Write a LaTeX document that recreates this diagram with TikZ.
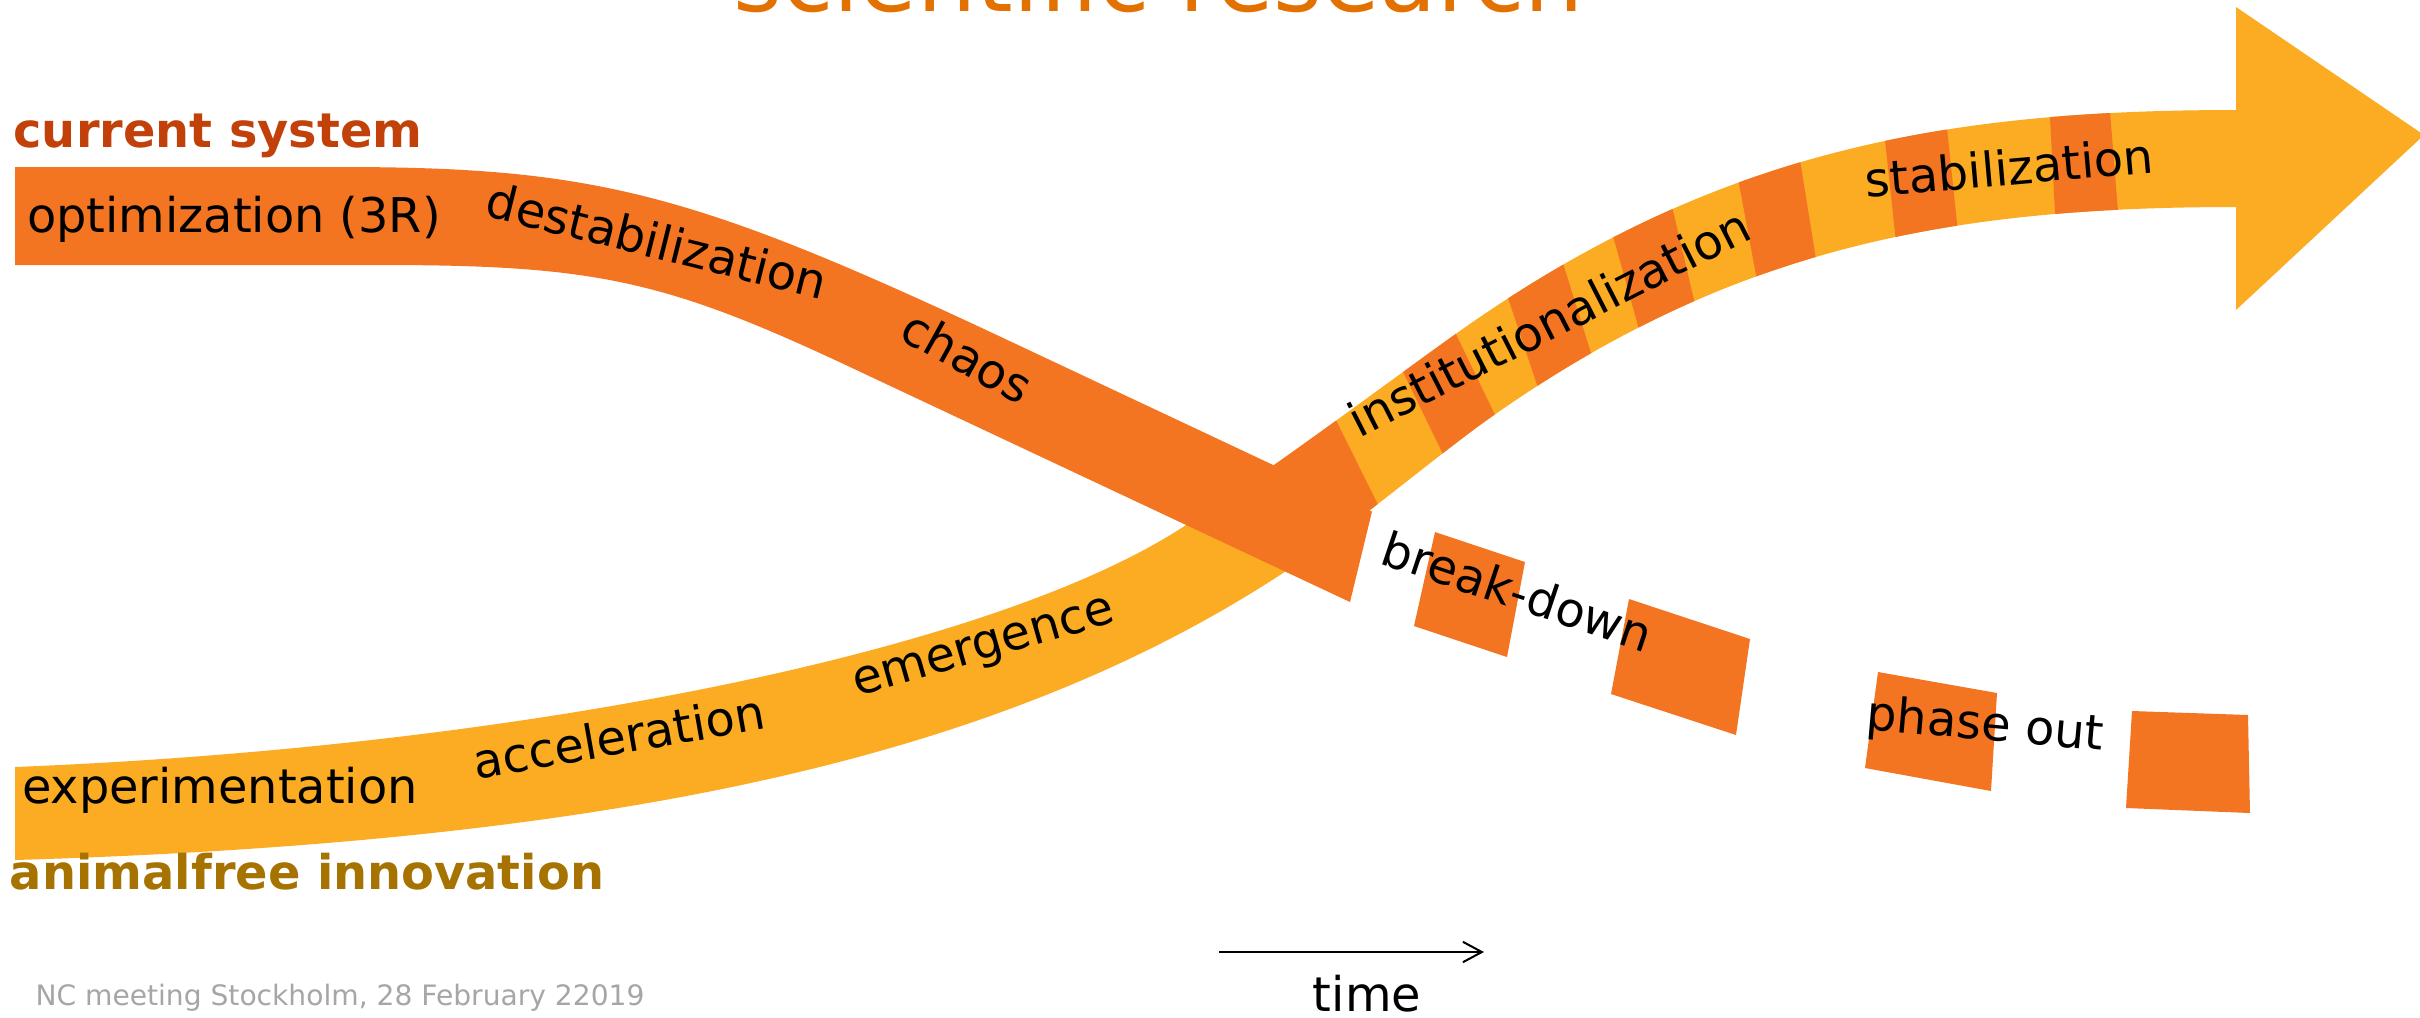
\documentclass[tikz,border=0pt]{standalone}
\usepackage{fontspec}
\setmainfont{DejaVu Sans}
\usetikzlibrary{arrows.meta}
\definecolor{bandOrange}{RGB}{243,117,34}
\definecolor{bandYellow}{RGB}{251,172,34}
\definecolor{titleOrange}{RGB}{226,113,0}
\definecolor{curRed}{RGB}{194,65,10}
\definecolor{animGold}{RGB}{166,114,0}
\definecolor{footGray}{RGB}{166,166,166}
\newcommand\LblFont{\fontsize{13.6pt}{16pt}\selectfont}
\newcommand\TitleFont{\fontsize{26.6pt}{30pt}\selectfont}
\newcommand\FootFont{\fontsize{8pt}{10pt}\selectfont}
\newcommand\YellowOutline{(15,767) .. controls (526,746.6) and (993,650.6) .. (1183,527) .. controls (1272,469) and (1361,402) .. (1450,338) .. controls (1704,155.6) and (1931,110) .. (2236,110) -- (2236,7) -- (2424,135) -- (2236,310) -- (2236,207) .. controls (1941.5,207) and (1722.4,250.6) .. (1480,425) .. controls (1413,474.6) and (1347,531.5) .. (1280,575) .. controls (1001,756.3) and (621.6,841.8) .. (15,860) -- cycle}
\tikzset{
  lbl/.style={font=\LblFont, text=black, inner sep=0pt, anchor=base},
  hdr/.style={font=\LblFont\bfseries, inner sep=0pt, anchor=base},
  orangefill/.style={fill=bandOrange},
  yellowfill/.style={fill=bandYellow},
  timearrow/.style={line width=0.57pt, -{Straight Barb[length=5.4pt,width=5.8pt]}}
}
\begin{document}
\begin{tikzpicture}[x=0.01cm,y=-0.01cm]
\useasboundingbox (0,0) rectangle (2420,1017);
\clip (0,0) rectangle (2420,1017);
\fill[white] (0,0) rectangle (2420,1017);

% title (cut by the top edge)
\node[font=\TitleFont, text=titleOrange, inner sep=0pt, anchor=base] (title) at (1159,11) {scientific research};

% animal-free innovation band with arrow
\fill[yellowfill] \YellowOutline;
\begin{scope}
  \clip \YellowOutline;
  \fill[orangefill] (1244,442) -- (1321,390) -- (1393,535) -- (1316,594) -- cycle;
  \fill[orangefill] (1386,337) -- (1439,299) -- (1511,448) -- (1458,485) -- cycle;
  \fill[orangefill] (1495,259) -- (1552,228) -- (1601,385) -- (1549,421) -- cycle;
  \fill[orangefill] (1603,200) -- (1664,172) -- (1701,330) -- (1647,358) -- cycle;
  \fill[orangefill] (1731,141) -- (1794,123) -- (1821,290) -- (1762,307) -- cycle;
  \fill[orangefill] (1881,103) -- (1943,90) -- (1961,261) -- (1899,270) -- cycle;
  \fill[orangefill] (2048,79) -- (2107,74) -- (2121,249) -- (2057,251) -- cycle;
\end{scope}

% current system band
\fill[orangefill] (15,167) -- (340,167) .. controls (594,167) and (693,192.4) .. (1000,336.5) -- (1372,511.5) -- (1350,602) -- (850,367) .. controls (665,280) and (595,265) .. (380,265) -- (15,265) -- cycle;

% break-down / phase-out pieces
\fill[orangefill] (1435,532) -- (1525,562) -- (1507,657) -- (1414,626) -- cycle;
\fill[orangefill] (1629,599) -- (1750,639) -- (1736,735) -- (1611,694) -- cycle;
\fill[orangefill] (1878,672) -- (1997,693) -- (1991,791) -- (1865,768) -- cycle;
\fill[orangefill] (2132,711) -- (2248,715) -- (2250,813) -- (2126,808) -- cycle;

% headings
\node[hdr, text=curRed] (cur) at (218,147) {current system};
\node[hdr, text=animGold] (anim) at (307,889) {animalfree innovation};

% labels
\node[lbl] (opt) at (234,232) {optimization (3R)};
\node[lbl, rotate=-14] (destab) at (653,258) {destabilization};
\node[lbl, rotate=-29] (chaos) at (959,372) {chaos};
\node[lbl] (exper) at (220,803) {experimentation};
\node[lbl, rotate=10] (accel) at (622,754) {acceleration};
\node[lbl, rotate=16] (emerg) at (987,659) {emergence};
\node[lbl, rotate=27] (instit) at (1557,338) {institutionalization};
\node[lbl, rotate=5] (stabil) at (2011,185) {stabilization};
\node[lbl, rotate=-18.5] (brk) at (1512,608) {break-down};
\node[lbl, rotate=-5] (phase) at (1984,740) {phase out};

% time arrow
\coordinate (t0) at (1219,952);
\coordinate (t1) at (1484,952);
\draw[timearrow] (t0) -- (t1);
\node[lbl] (time) at (1367,1011) {time};

% footer
\node[font=\FootFont, text=footGray, inner sep=0pt, anchor=base] (foot) at (340,1005) {NC meeting Stockholm, 28 February 22019};
\end{tikzpicture}
\end{document}
